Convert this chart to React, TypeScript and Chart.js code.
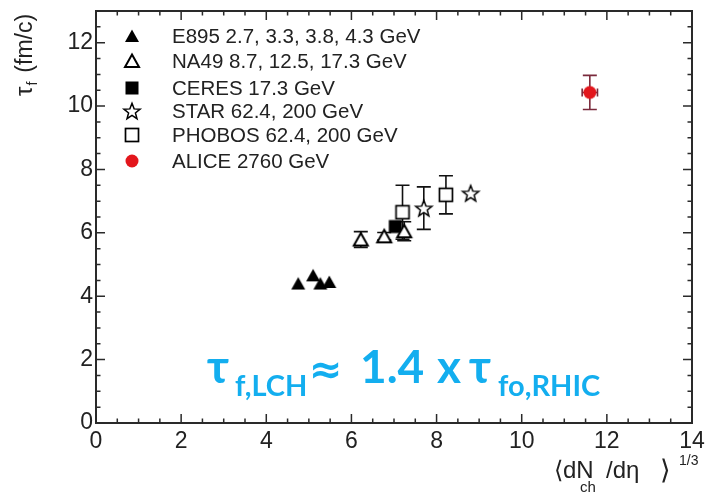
import React, { useEffect, useRef } from "react";
import { Chart, registerables } from "chart.js";
Chart.register(...registerables);

// ---------- data ----------
const seriesNames = [
  "E895 2.7, 3.3, 3.8, 4.3 GeV",
  "NA49 8.7, 12.5, 17.3 GeV",
  "CERES 17.3 GeV",
  "STAR 62.4, 200 GeV",
  "PHOBOS 62.4, 200 GeV",
  "ALICE 2760 GeV",
];

const e895X = [4.75, 5.1, 5.27, 5.48];
const e895Y = [4.4, 4.66, 4.4, 4.45];
const e895Err = [0, 0, 0, 0];

const na49X = [6.22, 6.77, 7.24];
const na49Y = [5.79, 5.89, 6.05];
const na49Err = [0.25, 0.12, 0.3];

const ceresX = [7.03];
const ceresY = [6.2];
const ceresErr = [0];

const starX = [7.7, 8.8];
const starY = [6.78, 7.25];
const starErr = [0.67, 0];

const phobosX = [7.2, 8.22];
const phobosY = [6.65, 7.2];
const phobosErr = [0.85, 0.6];

const aliceX = [11.6];
const aliceY = [10.43];
const aliceErr = [0.54];
const aliceXErr = [0.18];

const xTickVals = [0, 2, 4, 6, 8, 10, 12, 14];
const yTickVals = [0, 2, 4, 6, 8, 10, 12];

const FONT = "'Liberation Sans', Arial, sans-serif";
const TXT = "#222";

// ---------- marker images ----------
function makeMarker(kind: string): HTMLCanvasElement {
  const s = 22;
  const c = document.createElement("canvas");
  c.width = s;
  c.height = s;
  const g = c.getContext("2d")!;
  const m = s / 2;
  g.lineJoin = "miter";
  if (kind === "triFilled" || kind === "triOpen") {
    g.beginPath();
    g.moveTo(m, m - 6.5);
    g.lineTo(m + 7, m + 6);
    g.lineTo(m - 7, m + 6);
    g.closePath();
    if (kind === "triFilled") {
      g.fillStyle = "#000";
      g.fill();
    } else {
      g.fillStyle = "#fff";
      g.fill();
      g.lineWidth = 2;
      g.strokeStyle = "#000";
      g.stroke();
    }
  } else if (kind === "sqFilled") {
    g.fillStyle = "#000";
    g.fillRect(m - 6.5, m - 6.5, 13, 13);
  } else if (kind === "sqOpen") {
    g.fillStyle = "#fff";
    g.fillRect(m - 6.5, m - 6.5, 13, 13);
    g.lineWidth = 1.7;
    g.strokeStyle = "#000";
    g.strokeRect(m - 6.5, m - 6.5, 13, 13);
  } else if (kind === "star") {
    g.beginPath();
    for (let i = 0; i < 10; i++) {
      const r = i % 2 === 0 ? 8.5 : 3.6;
      const a = -Math.PI / 2 + (i * Math.PI) / 5;
      const px = m + r * Math.cos(a);
      const py = m + 0.8 + r * Math.sin(a);
      if (i === 0) g.moveTo(px, py);
      else g.lineTo(px, py);
    }
    g.closePath();
    g.fillStyle = "#fff";
    g.fill();
    g.lineWidth = 1.5;
    g.strokeStyle = "#000";
    g.stroke();
  } else if (kind === "circle") {
    g.beginPath();
    g.arc(m, m, 6.5, 0, Math.PI * 2);
    g.fillStyle = "#e3161c";
    g.fill();
  }
  return c;
}

const pts = (xs: number[], ys: number[]) => xs.map((x, i) => ({ x, y: ys[i] }));

export default function App() {
  const ref = useRef<HTMLCanvasElement>(null);

  useEffect(() => {
    const markers = [
      makeMarker("triFilled"),
      makeMarker("triOpen"),
      makeMarker("sqFilled"),
      makeMarker("star"),
      makeMarker("sqOpen"),
      makeMarker("circle"),
    ];
    const errs = [e895Err, na49Err, ceresErr, starErr, phobosErr, aliceErr];
    const xErrs = [null, null, null, null, null, aliceXErr];
    const errColors = ["#111", "#111", "#111", "#111", "#111", "#7a2a3c"];
    const data = [
      pts(e895X, e895Y),
      pts(na49X, na49Y),
      pts(ceresX, ceresY),
      pts(starX, starY),
      pts(phobosX, phobosY),
      pts(aliceX, aliceY),
    ];

    const datasets = data.map((d, i) => ({
      label: seriesNames[i],
      data: d,
      pointStyle: markers[i],
      pointRadius: 8,
      pointHoverRadius: 8,
      showLine: false,
    }));

    const framePlugin = {
      id: "frame",
      beforeDatasetsDraw(chart: any) {
        const { ctx, chartArea: a, scales } = chart;
        const xs = scales.x, ys = scales.y;
        ctx.save();
        ctx.strokeStyle = "#2a2a2a";
        ctx.lineWidth = 2;
        ctx.strokeRect(a.left, a.top, a.right - a.left, a.bottom - a.top);
        ctx.lineWidth = 1.5;
        ctx.beginPath();
        for (let v = 0; v <= 14.001; v += 0.5) {
          const px = xs.getPixelForValue(v);
          const len = Math.abs(v % 2) < 1e-6 ? 9 : 4.5;
          ctx.moveTo(px, a.bottom);
          ctx.lineTo(px, a.bottom - len);
          ctx.moveTo(px, a.top);
          ctx.lineTo(px, a.top + len);
        }
        for (let v = 0; v <= 13.001; v += 0.5) {
          const py = ys.getPixelForValue(v);
          const len = Math.abs(v % 2) < 1e-6 ? 9 : 4.5;
          ctx.moveTo(a.left, py);
          ctx.lineTo(a.left + len, py);
          ctx.moveTo(a.right, py);
          ctx.lineTo(a.right - len, py);
        }
        ctx.stroke();

        // error bars
        chart.data.datasets.forEach((ds: any, i: number) => {
          const meta = chart.getDatasetMeta(i);
          const e = errs[i];
          const xe = xErrs[i];
          ctx.strokeStyle = errColors[i];
          ctx.lineWidth = 1.6;
          meta.data.forEach((el: any, j: number) => {
            const p = ds.data[j];
            if (e[j] > 0) {
              const y1 = ys.getPixelForValue(p.y + e[j]);
              const y2 = ys.getPixelForValue(p.y - e[j]);
              ctx.beginPath();
              ctx.moveTo(el.x, y1);
              ctx.lineTo(el.x, y2);
              ctx.moveTo(el.x - 7, y1);
              ctx.lineTo(el.x + 7, y1);
              ctx.moveTo(el.x - 7, y2);
              ctx.lineTo(el.x + 7, y2);
              ctx.stroke();
            }
            if (xe && xe[j] > 0) {
              const x1 = xs.getPixelForValue(p.x - xe[j]);
              const x2 = xs.getPixelForValue(p.x + xe[j]);
              ctx.beginPath();
              ctx.moveTo(x1, el.y);
              ctx.lineTo(x2, el.y);
              ctx.moveTo(x1, el.y - 4);
              ctx.lineTo(x1, el.y + 4);
              ctx.moveTo(x2, el.y - 4);
              ctx.lineTo(x2, el.y + 4);
              ctx.stroke();
            }
          });
        });
        ctx.restore();
      },
      afterDraw(chart: any) {
        const { ctx } = chart;
        ctx.save();
        // legend
        const rowY = [36, 61, 88, 111, 135, 161];
        ctx.font = `20.5px ${FONT}`;
        ctx.fillStyle = TXT;
        ctx.textBaseline = "middle";
        ctx.textAlign = "left";
        seriesNames.forEach((n, i) => {
          const mk = markers[i];
          ctx.drawImage(mk, 132 - mk.width / 2, rowY[i] - mk.height / 2);
          ctx.fillText(n, 172, rowY[i] + 1);
        });

        // y axis title (rotated)
        ctx.save();
        ctx.translate(32, 96);
        ctx.rotate(-Math.PI / 2);
        ctx.textBaseline = "alphabetic";
        ctx.font = `24px ${FONT}`;
        ctx.fillText("τ", 0, 0);
        let w = ctx.measureText("τ").width;
        ctx.font = `14px ${FONT}`;
        ctx.fillText("f", w + 1, 5);
        w += 1 + ctx.measureText("f").width + 9;
        ctx.font = `23px ${FONT}`;
        ctx.fillText("(fm/c)", w, 0);
        ctx.restore();

        // x axis title
        ctx.textBaseline = "alphabetic";
        const base = 478;
        ctx.font = `24px ${FONT}`;
        ctx.fillText("⟨dN", 554, base);
        ctx.fillText("/dη", 606, base);
        ctx.font = `27px ${FONT}`;
        ctx.fillText("⟩", 660, base + 1);
        ctx.font = `15px ${FONT}`;
        ctx.fillText("ch", 580, base + 14);
        ctx.font = `14px ${FONT}`;
        ctx.fillText("1/3", 679, base - 13);

        // cyan annotation
        ctx.fillStyle = "#13aeef";
        const big = `bold 46px Lato, 'Open Sans', sans-serif`;
        const small = `bold 29px Lato, 'Open Sans', sans-serif`;
        const bl = 383;
        const sb = 396;
        ctx.font = big;
        ctx.fillText("τ", 207, bl);
        ctx.fillText("1.4", 360, bl);
        ctx.fillText("x", 437, bl);
        ctx.fillText("τ", 469, bl);
        ctx.font = `bold 40px 'DejaVu Sans', sans-serif`;
        ctx.fillText("≈", 309, bl);
        ctx.font = small;
        ctx.fillText("f,LCH", 235, sb);
        ctx.fillText("fo,RHIC", 498, sb);
        ctx.restore();
      },
    };

    const chart = new Chart(ref.current!, {
      type: "scatter",
      data: { datasets: datasets as any },
      options: {
        animation: false,
        responsive: false,
        events: [],
        layout: { padding: { top: 11, right: 14, left: 0, bottom: 0 } },
        plugins: { legend: { display: false }, tooltip: { enabled: false } },
        scales: {
          x: {
            type: "linear",
            min: 0,
            max: 14,
            grid: { display: false, drawTicks: false },
            border: { display: false },
            afterBuildTicks: (s: any) => {
              s.ticks = xTickVals.map((v) => ({ value: v }));
            },
            afterFit: (s: any) => {
              s.height = 77;
              s.paddingLeft = 0;
              s.paddingRight = 0;
            },
            ticks: {
              padding: 5,
              font: { family: FONT, size: 23 },
              color: TXT,
              maxRotation: 0,
              autoSkip: false,
            },
          },
          y: {
            type: "linear",
            min: 0,
            max: 13,
            grid: { display: false, drawTicks: false },
            border: { display: false },
            afterBuildTicks: (s: any) => {
              s.ticks = yTickVals.map((v) => ({ value: v }));
            },
            afterFit: (s: any) => {
              s.width = 96;
              s.paddingTop = 0;
              s.paddingBottom = 0;
            },
            ticks: {
              padding: 3,
              font: { family: FONT, size: 23 },
              color: TXT,
              autoSkip: false,
            },
          },
        },
      },
      plugins: [framePlugin],
    });
    return () => chart.destroy();
  }, []);

  return (
    <div style={{ position: "fixed", left: 0, top: 0, width: 706, height: 500, background: "#fff" }}>
      <canvas ref={ref} width={706} height={500} style={{ display: "block", width: 706, height: 500 }} />
    </div>
  );
}
